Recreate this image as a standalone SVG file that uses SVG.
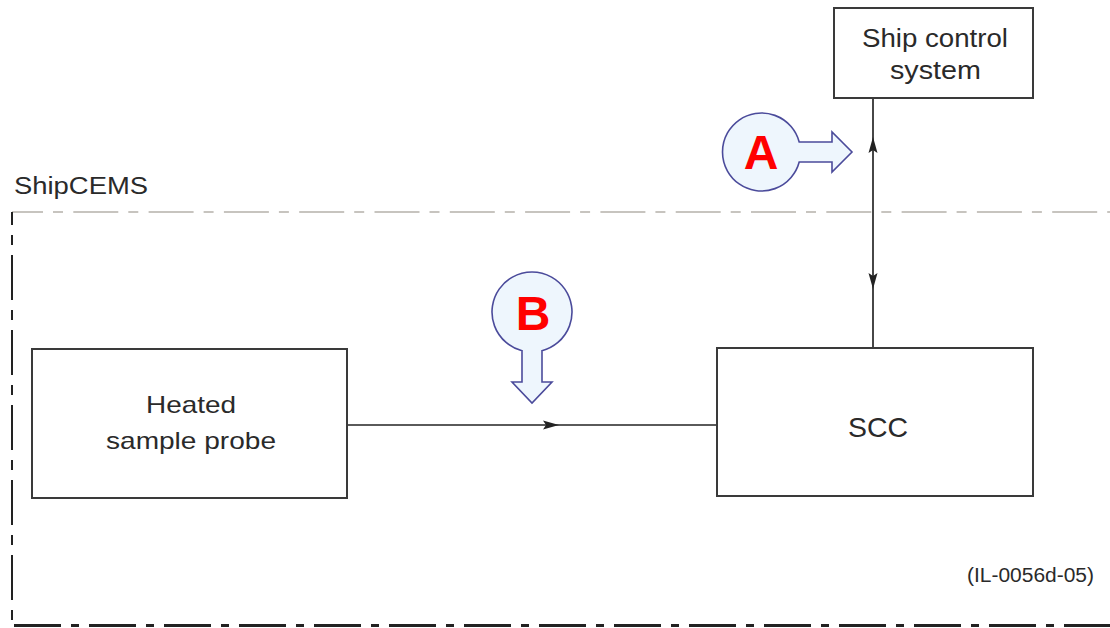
<svg xmlns="http://www.w3.org/2000/svg" width="1110" height="628" viewBox="0 0 1110 628">
<style>
.box{fill:#fff;stroke:#3a3a3a;stroke-width:2}
.lbl{font-family:"Liberation Sans",Arial,sans-serif;fill:#2a2a2a}
.ah{fill:#222}
.callout{fill:#eef6fd;stroke:#4b4b9b;stroke-width:1.6}
.ctext{font-family:"Liberation Sans",Arial,sans-serif;font-weight:bold;font-size:48px;fill:#ff0000;text-anchor:middle}
</style>
<rect width="1110" height="628" fill="#fff"/>
<g id="boundary">
<path d="M12,212 H1110" fill="none" stroke="#b5b1aa" stroke-width="1.6" stroke-dasharray="45 10 10 10.3" stroke-dashoffset="14"/>
<path d="M12,212 V622" fill="none" stroke="#222" stroke-width="2" stroke-dasharray="45 10 10 10" stroke-dashoffset="32"/>
<path d="M14,625.5 H1110" fill="none" stroke="#222" stroke-width="3" stroke-dasharray="47 10 8 10"/>
<text class="lbl" x="14" y="194" font-size="23" textLength="134" lengthAdjust="spacingAndGlyphs">ShipCEMS</text>
</g>
<g id="connectors">
<path d="M348,425 H717" fill="none" stroke="#5a5a5a" stroke-width="2"/>
<polygon class="ah" points="559,425 543,420.5 546,425 543,429.5"/>
<path d="M873,98 V348" fill="none" stroke="#333" stroke-width="1.8"/>
<polygon class="ah" points="873,137 868.5,153 873,150 877.5,153"/>
<polygon class="ah" points="873,289 868.5,273 873,276 877.5,273"/>
</g>
<g id="ship-control-system">
<rect class="box" x="834" y="8" width="199" height="90"/>
<text class="lbl" x="935" y="47" font-size="25" text-anchor="middle" textLength="146" lengthAdjust="spacingAndGlyphs">Ship control</text>
<text class="lbl" x="935.5" y="79" font-size="25" text-anchor="middle" textLength="91" lengthAdjust="spacingAndGlyphs">system</text>
</g>
<g id="heated-sample-probe">
<rect class="box" x="32" y="349" width="315" height="149"/>
<text class="lbl" x="191" y="413" font-size="24" text-anchor="middle" textLength="90" lengthAdjust="spacingAndGlyphs">Heated</text>
<text class="lbl" x="191" y="449" font-size="24" text-anchor="middle" textLength="170" lengthAdjust="spacingAndGlyphs">sample probe</text>
</g>
<g id="scc">
<rect class="box" x="717" y="348" width="316" height="148"/>
<text class="lbl" x="878" y="437" font-size="28" text-anchor="middle" textLength="60" lengthAdjust="spacingAndGlyphs">SCC</text>
</g>
<g id="callout-a">
<path class="callout" d="M799.2,142 H832 V132 L852,152 L832,172 V162 H799.2 A39,39 0 1 1 799.2,142 Z"/>
<text class="ctext" x="761" y="169">A</text>
</g>
<g id="callout-b">
<path class="callout" d="M542,350.7 V382 H552 L532,403 L512,382 H522 V350.7 A40,40 0 1 1 542,350.7 Z"/>
<text class="ctext" x="533" y="330">B</text>
</g>
<text class="lbl" x="1094" y="582" font-size="20" text-anchor="end" textLength="127" lengthAdjust="spacingAndGlyphs">(IL-0056d-05)</text>
</svg>
